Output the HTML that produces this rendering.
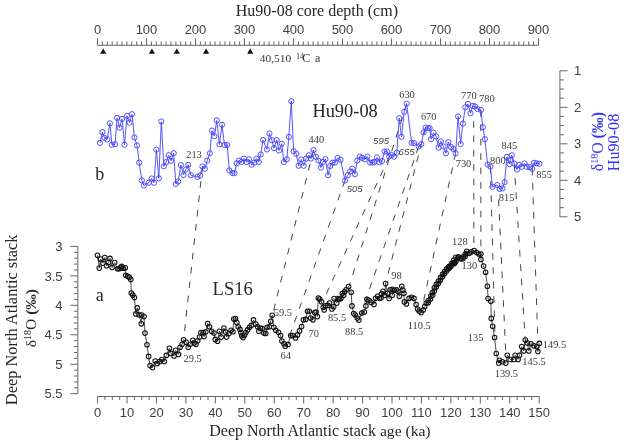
<!DOCTYPE html>
<html><head><meta charset="utf-8"><style>
html,body{margin:0;padding:0;background:#fff;}
svg{display:block;will-change:transform;}
</style></head><body>
<svg width="626" height="443" viewBox="0 0 626 443">
<rect width="626" height="443" fill="#fff"/>
<line x1="97.5" y1="45.3" x2="538.5" y2="45.3" stroke="#666" stroke-width="1"/>
<line x1="97.50" y1="38.3" x2="97.50" y2="45.3" stroke="#666" stroke-width="1"/>
<line x1="102.40" y1="41.5" x2="102.40" y2="45.3" stroke="#666" stroke-width="1"/>
<line x1="107.30" y1="41.5" x2="107.30" y2="45.3" stroke="#666" stroke-width="1"/>
<line x1="112.20" y1="41.5" x2="112.20" y2="45.3" stroke="#666" stroke-width="1"/>
<line x1="117.10" y1="41.5" x2="117.10" y2="45.3" stroke="#666" stroke-width="1"/>
<line x1="122.00" y1="41.5" x2="122.00" y2="45.3" stroke="#666" stroke-width="1"/>
<line x1="126.90" y1="41.5" x2="126.90" y2="45.3" stroke="#666" stroke-width="1"/>
<line x1="131.80" y1="41.5" x2="131.80" y2="45.3" stroke="#666" stroke-width="1"/>
<line x1="136.70" y1="41.5" x2="136.70" y2="45.3" stroke="#666" stroke-width="1"/>
<line x1="141.60" y1="41.5" x2="141.60" y2="45.3" stroke="#666" stroke-width="1"/>
<line x1="146.50" y1="38.3" x2="146.50" y2="45.3" stroke="#666" stroke-width="1"/>
<line x1="151.40" y1="41.5" x2="151.40" y2="45.3" stroke="#666" stroke-width="1"/>
<line x1="156.30" y1="41.5" x2="156.30" y2="45.3" stroke="#666" stroke-width="1"/>
<line x1="161.20" y1="41.5" x2="161.20" y2="45.3" stroke="#666" stroke-width="1"/>
<line x1="166.10" y1="41.5" x2="166.10" y2="45.3" stroke="#666" stroke-width="1"/>
<line x1="171.00" y1="41.5" x2="171.00" y2="45.3" stroke="#666" stroke-width="1"/>
<line x1="175.90" y1="41.5" x2="175.90" y2="45.3" stroke="#666" stroke-width="1"/>
<line x1="180.80" y1="41.5" x2="180.80" y2="45.3" stroke="#666" stroke-width="1"/>
<line x1="185.70" y1="41.5" x2="185.70" y2="45.3" stroke="#666" stroke-width="1"/>
<line x1="190.60" y1="41.5" x2="190.60" y2="45.3" stroke="#666" stroke-width="1"/>
<line x1="195.50" y1="38.3" x2="195.50" y2="45.3" stroke="#666" stroke-width="1"/>
<line x1="200.40" y1="41.5" x2="200.40" y2="45.3" stroke="#666" stroke-width="1"/>
<line x1="205.30" y1="41.5" x2="205.30" y2="45.3" stroke="#666" stroke-width="1"/>
<line x1="210.20" y1="41.5" x2="210.20" y2="45.3" stroke="#666" stroke-width="1"/>
<line x1="215.10" y1="41.5" x2="215.10" y2="45.3" stroke="#666" stroke-width="1"/>
<line x1="220.00" y1="41.5" x2="220.00" y2="45.3" stroke="#666" stroke-width="1"/>
<line x1="224.90" y1="41.5" x2="224.90" y2="45.3" stroke="#666" stroke-width="1"/>
<line x1="229.80" y1="41.5" x2="229.80" y2="45.3" stroke="#666" stroke-width="1"/>
<line x1="234.70" y1="41.5" x2="234.70" y2="45.3" stroke="#666" stroke-width="1"/>
<line x1="239.60" y1="41.5" x2="239.60" y2="45.3" stroke="#666" stroke-width="1"/>
<line x1="244.50" y1="38.3" x2="244.50" y2="45.3" stroke="#666" stroke-width="1"/>
<line x1="249.40" y1="41.5" x2="249.40" y2="45.3" stroke="#666" stroke-width="1"/>
<line x1="254.30" y1="41.5" x2="254.30" y2="45.3" stroke="#666" stroke-width="1"/>
<line x1="259.20" y1="41.5" x2="259.20" y2="45.3" stroke="#666" stroke-width="1"/>
<line x1="264.10" y1="41.5" x2="264.10" y2="45.3" stroke="#666" stroke-width="1"/>
<line x1="269.00" y1="41.5" x2="269.00" y2="45.3" stroke="#666" stroke-width="1"/>
<line x1="273.90" y1="41.5" x2="273.90" y2="45.3" stroke="#666" stroke-width="1"/>
<line x1="278.80" y1="41.5" x2="278.80" y2="45.3" stroke="#666" stroke-width="1"/>
<line x1="283.70" y1="41.5" x2="283.70" y2="45.3" stroke="#666" stroke-width="1"/>
<line x1="288.60" y1="41.5" x2="288.60" y2="45.3" stroke="#666" stroke-width="1"/>
<line x1="293.50" y1="38.3" x2="293.50" y2="45.3" stroke="#666" stroke-width="1"/>
<line x1="298.40" y1="41.5" x2="298.40" y2="45.3" stroke="#666" stroke-width="1"/>
<line x1="303.30" y1="41.5" x2="303.30" y2="45.3" stroke="#666" stroke-width="1"/>
<line x1="308.20" y1="41.5" x2="308.20" y2="45.3" stroke="#666" stroke-width="1"/>
<line x1="313.10" y1="41.5" x2="313.10" y2="45.3" stroke="#666" stroke-width="1"/>
<line x1="318.00" y1="41.5" x2="318.00" y2="45.3" stroke="#666" stroke-width="1"/>
<line x1="322.90" y1="41.5" x2="322.90" y2="45.3" stroke="#666" stroke-width="1"/>
<line x1="327.80" y1="41.5" x2="327.80" y2="45.3" stroke="#666" stroke-width="1"/>
<line x1="332.70" y1="41.5" x2="332.70" y2="45.3" stroke="#666" stroke-width="1"/>
<line x1="337.60" y1="41.5" x2="337.60" y2="45.3" stroke="#666" stroke-width="1"/>
<line x1="342.50" y1="38.3" x2="342.50" y2="45.3" stroke="#666" stroke-width="1"/>
<line x1="347.40" y1="41.5" x2="347.40" y2="45.3" stroke="#666" stroke-width="1"/>
<line x1="352.30" y1="41.5" x2="352.30" y2="45.3" stroke="#666" stroke-width="1"/>
<line x1="357.20" y1="41.5" x2="357.20" y2="45.3" stroke="#666" stroke-width="1"/>
<line x1="362.10" y1="41.5" x2="362.10" y2="45.3" stroke="#666" stroke-width="1"/>
<line x1="367.00" y1="41.5" x2="367.00" y2="45.3" stroke="#666" stroke-width="1"/>
<line x1="371.90" y1="41.5" x2="371.90" y2="45.3" stroke="#666" stroke-width="1"/>
<line x1="376.80" y1="41.5" x2="376.80" y2="45.3" stroke="#666" stroke-width="1"/>
<line x1="381.70" y1="41.5" x2="381.70" y2="45.3" stroke="#666" stroke-width="1"/>
<line x1="386.60" y1="41.5" x2="386.60" y2="45.3" stroke="#666" stroke-width="1"/>
<line x1="391.50" y1="38.3" x2="391.50" y2="45.3" stroke="#666" stroke-width="1"/>
<line x1="396.40" y1="41.5" x2="396.40" y2="45.3" stroke="#666" stroke-width="1"/>
<line x1="401.30" y1="41.5" x2="401.30" y2="45.3" stroke="#666" stroke-width="1"/>
<line x1="406.20" y1="41.5" x2="406.20" y2="45.3" stroke="#666" stroke-width="1"/>
<line x1="411.10" y1="41.5" x2="411.10" y2="45.3" stroke="#666" stroke-width="1"/>
<line x1="416.00" y1="41.5" x2="416.00" y2="45.3" stroke="#666" stroke-width="1"/>
<line x1="420.90" y1="41.5" x2="420.90" y2="45.3" stroke="#666" stroke-width="1"/>
<line x1="425.80" y1="41.5" x2="425.80" y2="45.3" stroke="#666" stroke-width="1"/>
<line x1="430.70" y1="41.5" x2="430.70" y2="45.3" stroke="#666" stroke-width="1"/>
<line x1="435.60" y1="41.5" x2="435.60" y2="45.3" stroke="#666" stroke-width="1"/>
<line x1="440.50" y1="38.3" x2="440.50" y2="45.3" stroke="#666" stroke-width="1"/>
<line x1="445.40" y1="41.5" x2="445.40" y2="45.3" stroke="#666" stroke-width="1"/>
<line x1="450.30" y1="41.5" x2="450.30" y2="45.3" stroke="#666" stroke-width="1"/>
<line x1="455.20" y1="41.5" x2="455.20" y2="45.3" stroke="#666" stroke-width="1"/>
<line x1="460.10" y1="41.5" x2="460.10" y2="45.3" stroke="#666" stroke-width="1"/>
<line x1="465.00" y1="41.5" x2="465.00" y2="45.3" stroke="#666" stroke-width="1"/>
<line x1="469.90" y1="41.5" x2="469.90" y2="45.3" stroke="#666" stroke-width="1"/>
<line x1="474.80" y1="41.5" x2="474.80" y2="45.3" stroke="#666" stroke-width="1"/>
<line x1="479.70" y1="41.5" x2="479.70" y2="45.3" stroke="#666" stroke-width="1"/>
<line x1="484.60" y1="41.5" x2="484.60" y2="45.3" stroke="#666" stroke-width="1"/>
<line x1="489.50" y1="38.3" x2="489.50" y2="45.3" stroke="#666" stroke-width="1"/>
<line x1="494.40" y1="41.5" x2="494.40" y2="45.3" stroke="#666" stroke-width="1"/>
<line x1="499.30" y1="41.5" x2="499.30" y2="45.3" stroke="#666" stroke-width="1"/>
<line x1="504.20" y1="41.5" x2="504.20" y2="45.3" stroke="#666" stroke-width="1"/>
<line x1="509.10" y1="41.5" x2="509.10" y2="45.3" stroke="#666" stroke-width="1"/>
<line x1="514.00" y1="41.5" x2="514.00" y2="45.3" stroke="#666" stroke-width="1"/>
<line x1="518.90" y1="41.5" x2="518.90" y2="45.3" stroke="#666" stroke-width="1"/>
<line x1="523.80" y1="41.5" x2="523.80" y2="45.3" stroke="#666" stroke-width="1"/>
<line x1="528.70" y1="41.5" x2="528.70" y2="45.3" stroke="#666" stroke-width="1"/>
<line x1="533.60" y1="41.5" x2="533.60" y2="45.3" stroke="#666" stroke-width="1"/>
<line x1="538.50" y1="38.3" x2="538.50" y2="45.3" stroke="#666" stroke-width="1"/>
<text x="97.50" y="33.8" style="font-family:'Liberation Sans',sans-serif" font-size="13" fill="#404040" text-anchor="middle">0</text>
<text x="146.50" y="33.8" style="font-family:'Liberation Sans',sans-serif" font-size="13" fill="#404040" text-anchor="middle">100</text>
<text x="195.50" y="33.8" style="font-family:'Liberation Sans',sans-serif" font-size="13" fill="#404040" text-anchor="middle">200</text>
<text x="244.50" y="33.8" style="font-family:'Liberation Sans',sans-serif" font-size="13" fill="#404040" text-anchor="middle">300</text>
<text x="293.50" y="33.8" style="font-family:'Liberation Sans',sans-serif" font-size="13" fill="#404040" text-anchor="middle">400</text>
<text x="342.50" y="33.8" style="font-family:'Liberation Sans',sans-serif" font-size="13" fill="#404040" text-anchor="middle">500</text>
<text x="391.50" y="33.8" style="font-family:'Liberation Sans',sans-serif" font-size="13" fill="#404040" text-anchor="middle">600</text>
<text x="440.50" y="33.8" style="font-family:'Liberation Sans',sans-serif" font-size="13" fill="#404040" text-anchor="middle">700</text>
<text x="489.50" y="33.8" style="font-family:'Liberation Sans',sans-serif" font-size="13" fill="#404040" text-anchor="middle">800</text>
<text x="538.50" y="33.8" style="font-family:'Liberation Sans',sans-serif" font-size="13" fill="#404040" text-anchor="middle">900</text>
<text x="235.8" y="16.4" style="font-family:'Liberation Serif',serif" font-size="16" fill="#262626">Hu90-08 core depth (cm)</text>
<path d="M100.1 53.8 L103.2 48.4 L106.3 53.8Z" fill="#111"/>
<path d="M148.8 53.8 L151.9 48.4 L155.0 53.8Z" fill="#111"/>
<path d="M173.7 53.8 L176.8 48.4 L179.9 53.8Z" fill="#111"/>
<path d="M203.0 53.8 L206.1 48.4 L209.2 53.8Z" fill="#111"/>
<path d="M247.1 53.8 L250.2 48.4 L253.3 53.8Z" fill="#111"/>
<text x="259.8" y="62.3" style="font-family:'Liberation Serif',serif" font-size="11.4" fill="#333">40,510<tspan x="296.0" font-size="8.2" dy="-3.8">14</tspan><tspan x="302.2" font-size="12.2" dy="3.8">C</tspan><tspan x="315" font-size="12">a</tspan></text>
<line x1="559.9" y1="70.8" x2="559.9" y2="216.8" stroke="#666" stroke-width="1"/>
<line x1="559.9" y1="70.80" x2="567.5" y2="70.80" stroke="#666" stroke-width="1"/>
<line x1="559.9" y1="79.92" x2="563.9" y2="79.92" stroke="#666" stroke-width="1"/>
<line x1="559.9" y1="89.05" x2="563.9" y2="89.05" stroke="#666" stroke-width="1"/>
<line x1="559.9" y1="98.17" x2="563.9" y2="98.17" stroke="#666" stroke-width="1"/>
<line x1="559.9" y1="107.30" x2="567.5" y2="107.30" stroke="#666" stroke-width="1"/>
<line x1="559.9" y1="116.42" x2="563.9" y2="116.42" stroke="#666" stroke-width="1"/>
<line x1="559.9" y1="125.55" x2="563.9" y2="125.55" stroke="#666" stroke-width="1"/>
<line x1="559.9" y1="134.68" x2="563.9" y2="134.68" stroke="#666" stroke-width="1"/>
<line x1="559.9" y1="143.80" x2="567.5" y2="143.80" stroke="#666" stroke-width="1"/>
<line x1="559.9" y1="152.93" x2="563.9" y2="152.93" stroke="#666" stroke-width="1"/>
<line x1="559.9" y1="162.05" x2="563.9" y2="162.05" stroke="#666" stroke-width="1"/>
<line x1="559.9" y1="171.18" x2="563.9" y2="171.18" stroke="#666" stroke-width="1"/>
<line x1="559.9" y1="180.30" x2="567.5" y2="180.30" stroke="#666" stroke-width="1"/>
<line x1="559.9" y1="189.43" x2="563.9" y2="189.43" stroke="#666" stroke-width="1"/>
<line x1="559.9" y1="198.55" x2="563.9" y2="198.55" stroke="#666" stroke-width="1"/>
<line x1="559.9" y1="207.68" x2="563.9" y2="207.68" stroke="#666" stroke-width="1"/>
<line x1="559.9" y1="216.80" x2="567.5" y2="216.80" stroke="#666" stroke-width="1"/>
<text x="574.0" y="75.45" style="font-family:'Liberation Sans',sans-serif" font-size="13" fill="#404040">1</text>
<text x="574.0" y="111.95" style="font-family:'Liberation Sans',sans-serif" font-size="13" fill="#404040">2</text>
<text x="574.0" y="148.45" style="font-family:'Liberation Sans',sans-serif" font-size="13" fill="#404040">3</text>
<text x="574.0" y="184.95" style="font-family:'Liberation Sans',sans-serif" font-size="13" fill="#404040">4</text>
<text x="574.0" y="221.45" style="font-family:'Liberation Sans',sans-serif" font-size="13" fill="#404040">5</text>
<text transform="translate(602.7,171.2) rotate(-90)" style="font-family:'Liberation Serif',serif" font-size="15.8" fill="#3333ff">δ<tspan font-size="10" dy="-5">18</tspan><tspan dy="5">O </tspan><tspan font-weight="bold">(‰)</tspan></text>
<text transform="translate(619.3,171.3) rotate(-90)" style="font-family:'Liberation Serif',serif" font-size="16.2" fill="#3333ff">Hu90-08</text>
<line x1="77.8" y1="246.4" x2="77.8" y2="393.70000000000005" stroke="#666" stroke-width="1"/>
<line x1="70.3" y1="246.40" x2="77.8" y2="246.40" stroke="#666" stroke-width="1"/>
<line x1="74" y1="252.29" x2="77.8" y2="252.29" stroke="#666" stroke-width="1"/>
<line x1="74" y1="258.18" x2="77.8" y2="258.18" stroke="#666" stroke-width="1"/>
<line x1="74" y1="264.08" x2="77.8" y2="264.08" stroke="#666" stroke-width="1"/>
<line x1="74" y1="269.97" x2="77.8" y2="269.97" stroke="#666" stroke-width="1"/>
<line x1="70.3" y1="275.86" x2="77.8" y2="275.86" stroke="#666" stroke-width="1"/>
<line x1="74" y1="281.75" x2="77.8" y2="281.75" stroke="#666" stroke-width="1"/>
<line x1="74" y1="287.64" x2="77.8" y2="287.64" stroke="#666" stroke-width="1"/>
<line x1="74" y1="293.54" x2="77.8" y2="293.54" stroke="#666" stroke-width="1"/>
<line x1="74" y1="299.43" x2="77.8" y2="299.43" stroke="#666" stroke-width="1"/>
<line x1="70.3" y1="305.32" x2="77.8" y2="305.32" stroke="#666" stroke-width="1"/>
<line x1="74" y1="311.21" x2="77.8" y2="311.21" stroke="#666" stroke-width="1"/>
<line x1="74" y1="317.10" x2="77.8" y2="317.10" stroke="#666" stroke-width="1"/>
<line x1="74" y1="323.00" x2="77.8" y2="323.00" stroke="#666" stroke-width="1"/>
<line x1="74" y1="328.89" x2="77.8" y2="328.89" stroke="#666" stroke-width="1"/>
<line x1="70.3" y1="334.78" x2="77.8" y2="334.78" stroke="#666" stroke-width="1"/>
<line x1="74" y1="340.67" x2="77.8" y2="340.67" stroke="#666" stroke-width="1"/>
<line x1="74" y1="346.56" x2="77.8" y2="346.56" stroke="#666" stroke-width="1"/>
<line x1="74" y1="352.46" x2="77.8" y2="352.46" stroke="#666" stroke-width="1"/>
<line x1="74" y1="358.35" x2="77.8" y2="358.35" stroke="#666" stroke-width="1"/>
<line x1="70.3" y1="364.24" x2="77.8" y2="364.24" stroke="#666" stroke-width="1"/>
<line x1="74" y1="370.13" x2="77.8" y2="370.13" stroke="#666" stroke-width="1"/>
<line x1="74" y1="376.02" x2="77.8" y2="376.02" stroke="#666" stroke-width="1"/>
<line x1="74" y1="381.92" x2="77.8" y2="381.92" stroke="#666" stroke-width="1"/>
<line x1="74" y1="387.81" x2="77.8" y2="387.81" stroke="#666" stroke-width="1"/>
<line x1="70.3" y1="393.70" x2="77.8" y2="393.70" stroke="#666" stroke-width="1"/>
<text x="62.6" y="251.05" style="font-family:'Liberation Sans',sans-serif" font-size="13" fill="#404040" text-anchor="end">3</text>
<text x="62.6" y="280.51" style="font-family:'Liberation Sans',sans-serif" font-size="13" fill="#404040" text-anchor="end">3.5</text>
<text x="62.6" y="309.97" style="font-family:'Liberation Sans',sans-serif" font-size="13" fill="#404040" text-anchor="end">4</text>
<text x="62.6" y="339.43" style="font-family:'Liberation Sans',sans-serif" font-size="13" fill="#404040" text-anchor="end">4.5</text>
<text x="62.6" y="368.89" style="font-family:'Liberation Sans',sans-serif" font-size="13" fill="#404040" text-anchor="end">5</text>
<text x="62.6" y="398.35" style="font-family:'Liberation Sans',sans-serif" font-size="13" fill="#404040" text-anchor="end">5.5</text>
<line x1="97.6" y1="396.5" x2="539.20" y2="396.5" stroke="#666" stroke-width="1"/>
<line x1="97.60" y1="396.5" x2="97.60" y2="403.5" stroke="#666" stroke-width="1"/>
<line x1="104.96" y1="396.5" x2="104.96" y2="400" stroke="#666" stroke-width="1"/>
<line x1="112.32" y1="396.5" x2="112.32" y2="400" stroke="#666" stroke-width="1"/>
<line x1="119.68" y1="396.5" x2="119.68" y2="400" stroke="#666" stroke-width="1"/>
<line x1="127.04" y1="396.5" x2="127.04" y2="403.5" stroke="#666" stroke-width="1"/>
<line x1="134.40" y1="396.5" x2="134.40" y2="400" stroke="#666" stroke-width="1"/>
<line x1="141.76" y1="396.5" x2="141.76" y2="400" stroke="#666" stroke-width="1"/>
<line x1="149.12" y1="396.5" x2="149.12" y2="400" stroke="#666" stroke-width="1"/>
<line x1="156.48" y1="396.5" x2="156.48" y2="403.5" stroke="#666" stroke-width="1"/>
<line x1="163.84" y1="396.5" x2="163.84" y2="400" stroke="#666" stroke-width="1"/>
<line x1="171.20" y1="396.5" x2="171.20" y2="400" stroke="#666" stroke-width="1"/>
<line x1="178.56" y1="396.5" x2="178.56" y2="400" stroke="#666" stroke-width="1"/>
<line x1="185.92" y1="396.5" x2="185.92" y2="403.5" stroke="#666" stroke-width="1"/>
<line x1="193.28" y1="396.5" x2="193.28" y2="400" stroke="#666" stroke-width="1"/>
<line x1="200.64" y1="396.5" x2="200.64" y2="400" stroke="#666" stroke-width="1"/>
<line x1="208.00" y1="396.5" x2="208.00" y2="400" stroke="#666" stroke-width="1"/>
<line x1="215.36" y1="396.5" x2="215.36" y2="403.5" stroke="#666" stroke-width="1"/>
<line x1="222.72" y1="396.5" x2="222.72" y2="400" stroke="#666" stroke-width="1"/>
<line x1="230.08" y1="396.5" x2="230.08" y2="400" stroke="#666" stroke-width="1"/>
<line x1="237.44" y1="396.5" x2="237.44" y2="400" stroke="#666" stroke-width="1"/>
<line x1="244.80" y1="396.5" x2="244.80" y2="403.5" stroke="#666" stroke-width="1"/>
<line x1="252.16" y1="396.5" x2="252.16" y2="400" stroke="#666" stroke-width="1"/>
<line x1="259.52" y1="396.5" x2="259.52" y2="400" stroke="#666" stroke-width="1"/>
<line x1="266.88" y1="396.5" x2="266.88" y2="400" stroke="#666" stroke-width="1"/>
<line x1="274.24" y1="396.5" x2="274.24" y2="403.5" stroke="#666" stroke-width="1"/>
<line x1="281.60" y1="396.5" x2="281.60" y2="400" stroke="#666" stroke-width="1"/>
<line x1="288.96" y1="396.5" x2="288.96" y2="400" stroke="#666" stroke-width="1"/>
<line x1="296.32" y1="396.5" x2="296.32" y2="400" stroke="#666" stroke-width="1"/>
<line x1="303.68" y1="396.5" x2="303.68" y2="403.5" stroke="#666" stroke-width="1"/>
<line x1="311.04" y1="396.5" x2="311.04" y2="400" stroke="#666" stroke-width="1"/>
<line x1="318.40" y1="396.5" x2="318.40" y2="400" stroke="#666" stroke-width="1"/>
<line x1="325.76" y1="396.5" x2="325.76" y2="400" stroke="#666" stroke-width="1"/>
<line x1="333.12" y1="396.5" x2="333.12" y2="403.5" stroke="#666" stroke-width="1"/>
<line x1="340.48" y1="396.5" x2="340.48" y2="400" stroke="#666" stroke-width="1"/>
<line x1="347.84" y1="396.5" x2="347.84" y2="400" stroke="#666" stroke-width="1"/>
<line x1="355.20" y1="396.5" x2="355.20" y2="400" stroke="#666" stroke-width="1"/>
<line x1="362.56" y1="396.5" x2="362.56" y2="403.5" stroke="#666" stroke-width="1"/>
<line x1="369.92" y1="396.5" x2="369.92" y2="400" stroke="#666" stroke-width="1"/>
<line x1="377.28" y1="396.5" x2="377.28" y2="400" stroke="#666" stroke-width="1"/>
<line x1="384.64" y1="396.5" x2="384.64" y2="400" stroke="#666" stroke-width="1"/>
<line x1="392.00" y1="396.5" x2="392.00" y2="403.5" stroke="#666" stroke-width="1"/>
<line x1="399.36" y1="396.5" x2="399.36" y2="400" stroke="#666" stroke-width="1"/>
<line x1="406.72" y1="396.5" x2="406.72" y2="400" stroke="#666" stroke-width="1"/>
<line x1="414.08" y1="396.5" x2="414.08" y2="400" stroke="#666" stroke-width="1"/>
<line x1="421.44" y1="396.5" x2="421.44" y2="403.5" stroke="#666" stroke-width="1"/>
<line x1="428.80" y1="396.5" x2="428.80" y2="400" stroke="#666" stroke-width="1"/>
<line x1="436.16" y1="396.5" x2="436.16" y2="400" stroke="#666" stroke-width="1"/>
<line x1="443.52" y1="396.5" x2="443.52" y2="400" stroke="#666" stroke-width="1"/>
<line x1="450.88" y1="396.5" x2="450.88" y2="403.5" stroke="#666" stroke-width="1"/>
<line x1="458.24" y1="396.5" x2="458.24" y2="400" stroke="#666" stroke-width="1"/>
<line x1="465.60" y1="396.5" x2="465.60" y2="400" stroke="#666" stroke-width="1"/>
<line x1="472.96" y1="396.5" x2="472.96" y2="400" stroke="#666" stroke-width="1"/>
<line x1="480.32" y1="396.5" x2="480.32" y2="403.5" stroke="#666" stroke-width="1"/>
<line x1="487.68" y1="396.5" x2="487.68" y2="400" stroke="#666" stroke-width="1"/>
<line x1="495.04" y1="396.5" x2="495.04" y2="400" stroke="#666" stroke-width="1"/>
<line x1="502.40" y1="396.5" x2="502.40" y2="400" stroke="#666" stroke-width="1"/>
<line x1="509.76" y1="396.5" x2="509.76" y2="403.5" stroke="#666" stroke-width="1"/>
<line x1="517.12" y1="396.5" x2="517.12" y2="400" stroke="#666" stroke-width="1"/>
<line x1="524.48" y1="396.5" x2="524.48" y2="400" stroke="#666" stroke-width="1"/>
<line x1="531.84" y1="396.5" x2="531.84" y2="400" stroke="#666" stroke-width="1"/>
<line x1="539.20" y1="396.5" x2="539.20" y2="403.5" stroke="#666" stroke-width="1"/>
<text x="97.60" y="417.2" style="font-family:'Liberation Sans',sans-serif" font-size="13" fill="#404040" text-anchor="middle">0</text>
<text x="127.04" y="417.2" style="font-family:'Liberation Sans',sans-serif" font-size="13" fill="#404040" text-anchor="middle">10</text>
<text x="156.48" y="417.2" style="font-family:'Liberation Sans',sans-serif" font-size="13" fill="#404040" text-anchor="middle">20</text>
<text x="185.92" y="417.2" style="font-family:'Liberation Sans',sans-serif" font-size="13" fill="#404040" text-anchor="middle">30</text>
<text x="215.36" y="417.2" style="font-family:'Liberation Sans',sans-serif" font-size="13" fill="#404040" text-anchor="middle">40</text>
<text x="244.80" y="417.2" style="font-family:'Liberation Sans',sans-serif" font-size="13" fill="#404040" text-anchor="middle">50</text>
<text x="274.24" y="417.2" style="font-family:'Liberation Sans',sans-serif" font-size="13" fill="#404040" text-anchor="middle">60</text>
<text x="303.68" y="417.2" style="font-family:'Liberation Sans',sans-serif" font-size="13" fill="#404040" text-anchor="middle">70</text>
<text x="333.12" y="417.2" style="font-family:'Liberation Sans',sans-serif" font-size="13" fill="#404040" text-anchor="middle">80</text>
<text x="362.56" y="417.2" style="font-family:'Liberation Sans',sans-serif" font-size="13" fill="#404040" text-anchor="middle">90</text>
<text x="392.00" y="417.2" style="font-family:'Liberation Sans',sans-serif" font-size="13" fill="#404040" text-anchor="middle">100</text>
<text x="421.44" y="417.2" style="font-family:'Liberation Sans',sans-serif" font-size="13" fill="#404040" text-anchor="middle">110</text>
<text x="450.88" y="417.2" style="font-family:'Liberation Sans',sans-serif" font-size="13" fill="#404040" text-anchor="middle">120</text>
<text x="480.32" y="417.2" style="font-family:'Liberation Sans',sans-serif" font-size="13" fill="#404040" text-anchor="middle">130</text>
<text x="509.76" y="417.2" style="font-family:'Liberation Sans',sans-serif" font-size="13" fill="#404040" text-anchor="middle">140</text>
<text x="539.20" y="417.2" style="font-family:'Liberation Sans',sans-serif" font-size="13" fill="#404040" text-anchor="middle">150</text>
<text x="209.3" y="436.4" style="font-family:'Liberation Serif',serif" font-size="16" fill="#262626">Deep North Atlantic stack <tspan font-size="15.6">age (ka)</tspan></text>
<text transform="translate(17.2,405.2) rotate(-90)" style="font-family:'Liberation Serif',serif" font-size="16.4" fill="#262626">Deep North Atlantic stack</text>
<text transform="translate(36.2,347.2) rotate(-90)" style="font-family:'Liberation Serif',serif" font-size="15.5" fill="#262626">δ<tspan font-size="10" dy="-5">18</tspan><tspan dy="5">O </tspan><tspan font-weight="bold">(‰)</tspan></text>
<line x1="202.5" y1="166.8" x2="184.0" y2="336.0" stroke="#444" stroke-width="1" stroke-dasharray="6.7 7.7"/>
<line x1="313.5" y1="150.1" x2="273.0" y2="313.0" stroke="#444" stroke-width="1" stroke-dasharray="6.7 7.7"/>
<line x1="345.0" y1="180.5" x2="286.0" y2="346.0" stroke="#444" stroke-width="1" stroke-dasharray="6.7 7.7"/>
<line x1="389.2" y1="156.8" x2="323.0" y2="301.0" stroke="#444" stroke-width="1" stroke-dasharray="6.7 7.7"/>
<line x1="406.7" y1="103.7" x2="349.1" y2="286.2" stroke="#444" stroke-width="1" stroke-dasharray="6.7 7.7"/>
<line x1="418.7" y1="146.5" x2="358.8" y2="320.1" stroke="#444" stroke-width="1" stroke-dasharray="6.7 7.7"/>
<line x1="425.6" y1="127.6" x2="385.6" y2="283.6" stroke="#444" stroke-width="1" stroke-dasharray="6.7 7.7"/>
<line x1="455.6" y1="153.3" x2="421.1" y2="312.6" stroke="#444" stroke-width="1" stroke-dasharray="6.7 7.7"/>
<line x1="473.7" y1="121.0" x2="473.9" y2="250.6" stroke="#444" stroke-width="1" stroke-dasharray="6.7 7.7"/>
<line x1="480.8" y1="110.0" x2="480.9" y2="254.0" stroke="#444" stroke-width="1" stroke-dasharray="6.7 7.7"/>
<line x1="490.4" y1="166.6" x2="495.0" y2="337.5" stroke="#444" stroke-width="1" stroke-dasharray="6.7 7.7"/>
<line x1="498.6" y1="199.6" x2="506.0" y2="358.0" stroke="#444" stroke-width="1" stroke-dasharray="6.7 7.7"/>
<line x1="514.2" y1="163.7" x2="525.3" y2="340.1" stroke="#444" stroke-width="1" stroke-dasharray="6.7 7.7"/>
<line x1="532.2" y1="168.8" x2="537.9" y2="343.4" stroke="#444" stroke-width="1" stroke-dasharray="6.7 7.7"/>
<polyline points="100.0,142.9 102.4,132.1 104.5,137.9 107.2,139.5 109.9,123.3 111.9,144.7 115.0,144.3 117.1,117.9 119.6,127.7 122.1,118.9 124.5,144.7 127.0,115.8 129.5,122.6 132.0,114.2 134.4,137.5 137.0,145.4 139.2,162.6 141.8,180.3 143.9,185.5 148.9,182.7 151.7,178.5 154.0,182.8 156.4,149.7 158.8,178.3 161.3,121.5 163.8,166.3 166.2,162.0 168.6,155.2 171.0,160.8 173.7,153.2 175.8,184.0 178.2,181.5 180.9,165.1 183.5,175.0 185.8,169.5 188.2,164.8 190.9,175.3 197.4,176.9 200.2,175.5 202.4,166.5 204.9,168.7 207.3,160.6 209.9,153.2 211.9,130.6 214.4,136.2 216.8,120.4 219.4,144.4 222.0,124.7 224.5,145.0 227.2,145.0 229.3,170.4 232.4,173.1 234.4,173.1 236.7,163.3 239.0,160.6 241.4,162.0 243.9,158.6 246.6,162.0 248.9,159.3 251.6,164.7 254.3,162.6 256.4,158.6 258.8,162.0 260.7,154.5 263.1,140.0 266.9,149.5 269.4,133.5 271.9,140.3 274.0,148.2 276.7,140.0 279.0,150.5 281.8,143.7 283.8,162.0 286.8,159.3 288.8,136.9 291.3,101.2 293.6,151.1 296.3,153.8 298.6,165.8 301.3,159.5 303.7,165.8 306.2,158.6 308.9,155.2 310.9,158.6 313.5,150.1 315.9,156.8 318.4,160.6 320.9,167.5 322.9,162.0 325.5,159.1 328.1,175.2 330.2,166.0 332.5,162.6 334.9,162.6 337.6,157.9 340.6,159.9 345.0,180.5 347.8,175.2 350.1,171.4 352.5,168.7 354.9,174.2 357.2,160.6 359.7,156.6 362.0,157.9 364.7,159.3 367.4,156.6 370.1,162.6 372.5,162.5 374.2,162.0 377.0,157.4 379.5,162.3 382.0,161.0 384.5,151.5 387.0,151.5 389.3,156.4 391.5,155.0 394.1,156.7 396.8,152.7 399.2,118.2 401.5,136.8 404.2,111.8 406.7,103.7 411.6,142.8 414.0,143.0 418.7,146.5 421.3,144.1 423.5,132.4 425.6,127.6 428.1,128.1 429.7,128.1 431.0,139.2 433.5,132.8 436.2,136.4 438.5,147.6 440.8,141.3 443.5,146.5 445.9,153.3 448.4,142.2 451.1,147.1 453.4,149.0 455.6,153.3 458.1,116.4 460.6,144.0 462.9,123.6 465.3,107.3 468.0,104.0 470.5,113.2 472.8,106.0 475.1,106.4 477.5,109.1 480.9,110.0 482.9,127.2 484.9,139.2 487.6,164.5 490.4,166.6 492.4,186.8 497.3,185.0 499.7,188.9 502.5,188.4 504.6,182.1 506.9,156.9 509.5,164.2 510.3,160.0 511.8,155.3 514.4,163.7 517.1,169.5 519.1,165.0 521.8,166.8 524.5,163.4 526.8,166.8 529.9,167.2 532.2,168.8 534.0,162.8 536.7,163.4 539.4,163.7" fill="none" stroke="#4040ff" stroke-width="0.9"/>
<circle cx="100.0" cy="142.9" r="2.6" fill="none" stroke="#4040ff" stroke-width="0.9"/>
<circle cx="102.4" cy="132.1" r="2.6" fill="none" stroke="#4040ff" stroke-width="0.9"/>
<circle cx="104.5" cy="137.9" r="2.6" fill="none" stroke="#4040ff" stroke-width="0.9"/>
<circle cx="107.2" cy="139.5" r="2.6" fill="none" stroke="#4040ff" stroke-width="0.9"/>
<circle cx="109.9" cy="123.3" r="2.6" fill="none" stroke="#4040ff" stroke-width="0.9"/>
<circle cx="111.9" cy="144.7" r="2.6" fill="none" stroke="#4040ff" stroke-width="0.9"/>
<circle cx="115.0" cy="144.3" r="2.6" fill="none" stroke="#4040ff" stroke-width="0.9"/>
<circle cx="117.1" cy="117.9" r="2.6" fill="none" stroke="#4040ff" stroke-width="0.9"/>
<circle cx="119.6" cy="127.7" r="2.6" fill="none" stroke="#4040ff" stroke-width="0.9"/>
<circle cx="122.1" cy="118.9" r="2.6" fill="none" stroke="#4040ff" stroke-width="0.9"/>
<circle cx="124.5" cy="144.7" r="2.6" fill="none" stroke="#4040ff" stroke-width="0.9"/>
<circle cx="127.0" cy="115.8" r="2.6" fill="none" stroke="#4040ff" stroke-width="0.9"/>
<circle cx="129.5" cy="122.6" r="2.6" fill="none" stroke="#4040ff" stroke-width="0.9"/>
<circle cx="132.0" cy="114.2" r="2.6" fill="none" stroke="#4040ff" stroke-width="0.9"/>
<circle cx="134.4" cy="137.5" r="2.6" fill="none" stroke="#4040ff" stroke-width="0.9"/>
<circle cx="137.0" cy="145.4" r="2.6" fill="none" stroke="#4040ff" stroke-width="0.9"/>
<circle cx="139.2" cy="162.6" r="2.6" fill="none" stroke="#4040ff" stroke-width="0.9"/>
<circle cx="141.8" cy="180.3" r="2.6" fill="none" stroke="#4040ff" stroke-width="0.9"/>
<circle cx="143.9" cy="185.5" r="2.6" fill="none" stroke="#4040ff" stroke-width="0.9"/>
<circle cx="148.9" cy="182.7" r="2.6" fill="none" stroke="#4040ff" stroke-width="0.9"/>
<circle cx="151.7" cy="178.5" r="2.6" fill="none" stroke="#4040ff" stroke-width="0.9"/>
<circle cx="154.0" cy="182.8" r="2.6" fill="none" stroke="#4040ff" stroke-width="0.9"/>
<circle cx="156.4" cy="149.7" r="2.6" fill="none" stroke="#4040ff" stroke-width="0.9"/>
<circle cx="158.8" cy="178.3" r="2.6" fill="none" stroke="#4040ff" stroke-width="0.9"/>
<circle cx="161.3" cy="121.5" r="2.6" fill="none" stroke="#4040ff" stroke-width="0.9"/>
<circle cx="163.8" cy="166.3" r="2.6" fill="none" stroke="#4040ff" stroke-width="0.9"/>
<circle cx="166.2" cy="162.0" r="2.6" fill="none" stroke="#4040ff" stroke-width="0.9"/>
<circle cx="168.6" cy="155.2" r="2.6" fill="none" stroke="#4040ff" stroke-width="0.9"/>
<circle cx="171.0" cy="160.8" r="2.6" fill="none" stroke="#4040ff" stroke-width="0.9"/>
<circle cx="173.7" cy="153.2" r="2.6" fill="none" stroke="#4040ff" stroke-width="0.9"/>
<circle cx="175.8" cy="184.0" r="2.6" fill="none" stroke="#4040ff" stroke-width="0.9"/>
<circle cx="178.2" cy="181.5" r="2.6" fill="none" stroke="#4040ff" stroke-width="0.9"/>
<circle cx="180.9" cy="165.1" r="2.6" fill="none" stroke="#4040ff" stroke-width="0.9"/>
<circle cx="183.5" cy="175.0" r="2.6" fill="none" stroke="#4040ff" stroke-width="0.9"/>
<circle cx="185.8" cy="169.5" r="2.6" fill="none" stroke="#4040ff" stroke-width="0.9"/>
<circle cx="188.2" cy="164.8" r="2.6" fill="none" stroke="#4040ff" stroke-width="0.9"/>
<circle cx="190.9" cy="175.3" r="2.6" fill="none" stroke="#4040ff" stroke-width="0.9"/>
<circle cx="197.4" cy="176.9" r="2.6" fill="none" stroke="#4040ff" stroke-width="0.9"/>
<circle cx="200.2" cy="175.5" r="2.6" fill="none" stroke="#4040ff" stroke-width="0.9"/>
<circle cx="202.4" cy="166.5" r="2.6" fill="none" stroke="#4040ff" stroke-width="0.9"/>
<circle cx="204.9" cy="168.7" r="2.6" fill="none" stroke="#4040ff" stroke-width="0.9"/>
<circle cx="207.3" cy="160.6" r="2.6" fill="none" stroke="#4040ff" stroke-width="0.9"/>
<circle cx="209.9" cy="153.2" r="2.6" fill="none" stroke="#4040ff" stroke-width="0.9"/>
<circle cx="211.9" cy="130.6" r="2.6" fill="none" stroke="#4040ff" stroke-width="0.9"/>
<circle cx="214.4" cy="136.2" r="2.6" fill="none" stroke="#4040ff" stroke-width="0.9"/>
<circle cx="216.8" cy="120.4" r="2.6" fill="none" stroke="#4040ff" stroke-width="0.9"/>
<circle cx="219.4" cy="144.4" r="2.6" fill="none" stroke="#4040ff" stroke-width="0.9"/>
<circle cx="222.0" cy="124.7" r="2.6" fill="none" stroke="#4040ff" stroke-width="0.9"/>
<circle cx="224.5" cy="145.0" r="2.6" fill="none" stroke="#4040ff" stroke-width="0.9"/>
<circle cx="227.2" cy="145.0" r="2.6" fill="none" stroke="#4040ff" stroke-width="0.9"/>
<circle cx="229.3" cy="170.4" r="2.6" fill="none" stroke="#4040ff" stroke-width="0.9"/>
<circle cx="232.4" cy="173.1" r="2.6" fill="none" stroke="#4040ff" stroke-width="0.9"/>
<circle cx="234.4" cy="173.1" r="2.6" fill="none" stroke="#4040ff" stroke-width="0.9"/>
<circle cx="236.7" cy="163.3" r="2.6" fill="none" stroke="#4040ff" stroke-width="0.9"/>
<circle cx="239.0" cy="160.6" r="2.6" fill="none" stroke="#4040ff" stroke-width="0.9"/>
<circle cx="241.4" cy="162.0" r="2.6" fill="none" stroke="#4040ff" stroke-width="0.9"/>
<circle cx="243.9" cy="158.6" r="2.6" fill="none" stroke="#4040ff" stroke-width="0.9"/>
<circle cx="246.6" cy="162.0" r="2.6" fill="none" stroke="#4040ff" stroke-width="0.9"/>
<circle cx="248.9" cy="159.3" r="2.6" fill="none" stroke="#4040ff" stroke-width="0.9"/>
<circle cx="251.6" cy="164.7" r="2.6" fill="none" stroke="#4040ff" stroke-width="0.9"/>
<circle cx="254.3" cy="162.6" r="2.6" fill="none" stroke="#4040ff" stroke-width="0.9"/>
<circle cx="256.4" cy="158.6" r="2.6" fill="none" stroke="#4040ff" stroke-width="0.9"/>
<circle cx="258.8" cy="162.0" r="2.6" fill="none" stroke="#4040ff" stroke-width="0.9"/>
<circle cx="260.7" cy="154.5" r="2.6" fill="none" stroke="#4040ff" stroke-width="0.9"/>
<circle cx="263.1" cy="140.0" r="2.6" fill="none" stroke="#4040ff" stroke-width="0.9"/>
<circle cx="266.9" cy="149.5" r="2.6" fill="none" stroke="#4040ff" stroke-width="0.9"/>
<circle cx="269.4" cy="133.5" r="2.6" fill="none" stroke="#4040ff" stroke-width="0.9"/>
<circle cx="271.9" cy="140.3" r="2.6" fill="none" stroke="#4040ff" stroke-width="0.9"/>
<circle cx="274.0" cy="148.2" r="2.6" fill="none" stroke="#4040ff" stroke-width="0.9"/>
<circle cx="276.7" cy="140.0" r="2.6" fill="none" stroke="#4040ff" stroke-width="0.9"/>
<circle cx="279.0" cy="150.5" r="2.6" fill="none" stroke="#4040ff" stroke-width="0.9"/>
<circle cx="281.8" cy="143.7" r="2.6" fill="none" stroke="#4040ff" stroke-width="0.9"/>
<circle cx="283.8" cy="162.0" r="2.6" fill="none" stroke="#4040ff" stroke-width="0.9"/>
<circle cx="286.8" cy="159.3" r="2.6" fill="none" stroke="#4040ff" stroke-width="0.9"/>
<circle cx="288.8" cy="136.9" r="2.6" fill="none" stroke="#4040ff" stroke-width="0.9"/>
<circle cx="291.3" cy="101.2" r="2.6" fill="none" stroke="#4040ff" stroke-width="0.9"/>
<circle cx="293.6" cy="151.1" r="2.6" fill="none" stroke="#4040ff" stroke-width="0.9"/>
<circle cx="296.3" cy="153.8" r="2.6" fill="none" stroke="#4040ff" stroke-width="0.9"/>
<circle cx="298.6" cy="165.8" r="2.6" fill="none" stroke="#4040ff" stroke-width="0.9"/>
<circle cx="301.3" cy="159.5" r="2.6" fill="none" stroke="#4040ff" stroke-width="0.9"/>
<circle cx="303.7" cy="165.8" r="2.6" fill="none" stroke="#4040ff" stroke-width="0.9"/>
<circle cx="306.2" cy="158.6" r="2.6" fill="none" stroke="#4040ff" stroke-width="0.9"/>
<circle cx="308.9" cy="155.2" r="2.6" fill="none" stroke="#4040ff" stroke-width="0.9"/>
<circle cx="310.9" cy="158.6" r="2.6" fill="none" stroke="#4040ff" stroke-width="0.9"/>
<circle cx="313.5" cy="150.1" r="2.6" fill="none" stroke="#4040ff" stroke-width="0.9"/>
<circle cx="315.9" cy="156.8" r="2.6" fill="none" stroke="#4040ff" stroke-width="0.9"/>
<circle cx="318.4" cy="160.6" r="2.6" fill="none" stroke="#4040ff" stroke-width="0.9"/>
<circle cx="320.9" cy="167.5" r="2.6" fill="none" stroke="#4040ff" stroke-width="0.9"/>
<circle cx="322.9" cy="162.0" r="2.6" fill="none" stroke="#4040ff" stroke-width="0.9"/>
<circle cx="325.5" cy="159.1" r="2.6" fill="none" stroke="#4040ff" stroke-width="0.9"/>
<circle cx="328.1" cy="175.2" r="2.6" fill="none" stroke="#4040ff" stroke-width="0.9"/>
<circle cx="330.2" cy="166.0" r="2.6" fill="none" stroke="#4040ff" stroke-width="0.9"/>
<circle cx="332.5" cy="162.6" r="2.6" fill="none" stroke="#4040ff" stroke-width="0.9"/>
<circle cx="334.9" cy="162.6" r="2.6" fill="none" stroke="#4040ff" stroke-width="0.9"/>
<circle cx="337.6" cy="157.9" r="2.6" fill="none" stroke="#4040ff" stroke-width="0.9"/>
<circle cx="340.6" cy="159.9" r="2.6" fill="none" stroke="#4040ff" stroke-width="0.9"/>
<circle cx="345.0" cy="180.5" r="2.6" fill="none" stroke="#4040ff" stroke-width="0.9"/>
<circle cx="347.8" cy="175.2" r="2.6" fill="none" stroke="#4040ff" stroke-width="0.9"/>
<circle cx="350.1" cy="171.4" r="2.6" fill="none" stroke="#4040ff" stroke-width="0.9"/>
<circle cx="352.5" cy="168.7" r="2.6" fill="none" stroke="#4040ff" stroke-width="0.9"/>
<circle cx="354.9" cy="174.2" r="2.6" fill="none" stroke="#4040ff" stroke-width="0.9"/>
<circle cx="357.2" cy="160.6" r="2.6" fill="none" stroke="#4040ff" stroke-width="0.9"/>
<circle cx="359.7" cy="156.6" r="2.6" fill="none" stroke="#4040ff" stroke-width="0.9"/>
<circle cx="362.0" cy="157.9" r="2.6" fill="none" stroke="#4040ff" stroke-width="0.9"/>
<circle cx="364.7" cy="159.3" r="2.6" fill="none" stroke="#4040ff" stroke-width="0.9"/>
<circle cx="367.4" cy="156.6" r="2.6" fill="none" stroke="#4040ff" stroke-width="0.9"/>
<circle cx="370.1" cy="162.6" r="2.6" fill="none" stroke="#4040ff" stroke-width="0.9"/>
<circle cx="372.5" cy="162.5" r="2.6" fill="none" stroke="#4040ff" stroke-width="0.9"/>
<circle cx="374.2" cy="162.0" r="2.6" fill="none" stroke="#4040ff" stroke-width="0.9"/>
<circle cx="377.0" cy="157.4" r="2.6" fill="none" stroke="#4040ff" stroke-width="0.9"/>
<circle cx="379.5" cy="162.3" r="2.6" fill="none" stroke="#4040ff" stroke-width="0.9"/>
<circle cx="382.0" cy="161.0" r="2.6" fill="none" stroke="#4040ff" stroke-width="0.9"/>
<circle cx="384.5" cy="151.5" r="2.6" fill="none" stroke="#4040ff" stroke-width="0.9"/>
<circle cx="387.0" cy="151.5" r="2.6" fill="none" stroke="#4040ff" stroke-width="0.9"/>
<circle cx="389.3" cy="156.4" r="2.6" fill="none" stroke="#4040ff" stroke-width="0.9"/>
<circle cx="391.5" cy="155.0" r="2.6" fill="none" stroke="#4040ff" stroke-width="0.9"/>
<circle cx="394.1" cy="156.7" r="2.6" fill="none" stroke="#4040ff" stroke-width="0.9"/>
<circle cx="396.8" cy="152.7" r="2.6" fill="none" stroke="#4040ff" stroke-width="0.9"/>
<circle cx="399.2" cy="118.2" r="2.6" fill="none" stroke="#4040ff" stroke-width="0.9"/>
<circle cx="401.5" cy="136.8" r="2.6" fill="none" stroke="#4040ff" stroke-width="0.9"/>
<circle cx="404.2" cy="111.8" r="2.6" fill="none" stroke="#4040ff" stroke-width="0.9"/>
<circle cx="406.7" cy="103.7" r="2.6" fill="none" stroke="#4040ff" stroke-width="0.9"/>
<circle cx="411.6" cy="142.8" r="2.6" fill="none" stroke="#4040ff" stroke-width="0.9"/>
<circle cx="414.0" cy="143.0" r="2.6" fill="none" stroke="#4040ff" stroke-width="0.9"/>
<circle cx="418.7" cy="146.5" r="2.6" fill="none" stroke="#4040ff" stroke-width="0.9"/>
<circle cx="421.3" cy="144.1" r="2.6" fill="none" stroke="#4040ff" stroke-width="0.9"/>
<circle cx="423.5" cy="132.4" r="2.6" fill="none" stroke="#4040ff" stroke-width="0.9"/>
<circle cx="425.6" cy="127.6" r="2.6" fill="none" stroke="#4040ff" stroke-width="0.9"/>
<circle cx="428.1" cy="128.1" r="2.6" fill="none" stroke="#4040ff" stroke-width="0.9"/>
<circle cx="429.7" cy="128.1" r="2.6" fill="none" stroke="#4040ff" stroke-width="0.9"/>
<circle cx="431.0" cy="139.2" r="2.6" fill="none" stroke="#4040ff" stroke-width="0.9"/>
<circle cx="433.5" cy="132.8" r="2.6" fill="none" stroke="#4040ff" stroke-width="0.9"/>
<circle cx="436.2" cy="136.4" r="2.6" fill="none" stroke="#4040ff" stroke-width="0.9"/>
<circle cx="438.5" cy="147.6" r="2.6" fill="none" stroke="#4040ff" stroke-width="0.9"/>
<circle cx="440.8" cy="141.3" r="2.6" fill="none" stroke="#4040ff" stroke-width="0.9"/>
<circle cx="443.5" cy="146.5" r="2.6" fill="none" stroke="#4040ff" stroke-width="0.9"/>
<circle cx="445.9" cy="153.3" r="2.6" fill="none" stroke="#4040ff" stroke-width="0.9"/>
<circle cx="448.4" cy="142.2" r="2.6" fill="none" stroke="#4040ff" stroke-width="0.9"/>
<circle cx="451.1" cy="147.1" r="2.6" fill="none" stroke="#4040ff" stroke-width="0.9"/>
<circle cx="453.4" cy="149.0" r="2.6" fill="none" stroke="#4040ff" stroke-width="0.9"/>
<circle cx="455.6" cy="153.3" r="2.6" fill="none" stroke="#4040ff" stroke-width="0.9"/>
<circle cx="458.1" cy="116.4" r="2.6" fill="none" stroke="#4040ff" stroke-width="0.9"/>
<circle cx="460.6" cy="144.0" r="2.6" fill="none" stroke="#4040ff" stroke-width="0.9"/>
<circle cx="462.9" cy="123.6" r="2.6" fill="none" stroke="#4040ff" stroke-width="0.9"/>
<circle cx="465.3" cy="107.3" r="2.6" fill="none" stroke="#4040ff" stroke-width="0.9"/>
<circle cx="468.0" cy="104.0" r="2.6" fill="none" stroke="#4040ff" stroke-width="0.9"/>
<circle cx="470.5" cy="113.2" r="2.6" fill="none" stroke="#4040ff" stroke-width="0.9"/>
<circle cx="472.8" cy="106.0" r="2.6" fill="none" stroke="#4040ff" stroke-width="0.9"/>
<circle cx="475.1" cy="106.4" r="2.6" fill="none" stroke="#4040ff" stroke-width="0.9"/>
<circle cx="477.5" cy="109.1" r="2.6" fill="none" stroke="#4040ff" stroke-width="0.9"/>
<circle cx="480.9" cy="110.0" r="2.6" fill="none" stroke="#4040ff" stroke-width="0.9"/>
<circle cx="482.9" cy="127.2" r="2.6" fill="none" stroke="#4040ff" stroke-width="0.9"/>
<circle cx="484.9" cy="139.2" r="2.6" fill="none" stroke="#4040ff" stroke-width="0.9"/>
<circle cx="487.6" cy="164.5" r="2.6" fill="none" stroke="#4040ff" stroke-width="0.9"/>
<circle cx="490.4" cy="166.6" r="2.6" fill="none" stroke="#4040ff" stroke-width="0.9"/>
<circle cx="492.4" cy="186.8" r="2.6" fill="none" stroke="#4040ff" stroke-width="0.9"/>
<circle cx="497.3" cy="185.0" r="2.6" fill="none" stroke="#4040ff" stroke-width="0.9"/>
<circle cx="499.7" cy="188.9" r="2.6" fill="none" stroke="#4040ff" stroke-width="0.9"/>
<circle cx="502.5" cy="188.4" r="2.6" fill="none" stroke="#4040ff" stroke-width="0.9"/>
<circle cx="504.6" cy="182.1" r="2.6" fill="none" stroke="#4040ff" stroke-width="0.9"/>
<circle cx="506.9" cy="156.9" r="2.6" fill="none" stroke="#4040ff" stroke-width="0.9"/>
<circle cx="509.5" cy="164.2" r="2.6" fill="none" stroke="#4040ff" stroke-width="0.9"/>
<circle cx="510.3" cy="160.0" r="2.6" fill="none" stroke="#4040ff" stroke-width="0.9"/>
<circle cx="511.8" cy="155.3" r="2.6" fill="none" stroke="#4040ff" stroke-width="0.9"/>
<circle cx="514.4" cy="163.7" r="2.6" fill="none" stroke="#4040ff" stroke-width="0.9"/>
<circle cx="517.1" cy="169.5" r="2.6" fill="none" stroke="#4040ff" stroke-width="0.9"/>
<circle cx="519.1" cy="165.0" r="2.6" fill="none" stroke="#4040ff" stroke-width="0.9"/>
<circle cx="521.8" cy="166.8" r="2.6" fill="none" stroke="#4040ff" stroke-width="0.9"/>
<circle cx="524.5" cy="163.4" r="2.6" fill="none" stroke="#4040ff" stroke-width="0.9"/>
<circle cx="526.8" cy="166.8" r="2.6" fill="none" stroke="#4040ff" stroke-width="0.9"/>
<circle cx="529.9" cy="167.2" r="2.6" fill="none" stroke="#4040ff" stroke-width="0.9"/>
<circle cx="532.2" cy="168.8" r="2.6" fill="none" stroke="#4040ff" stroke-width="0.9"/>
<circle cx="534.0" cy="162.8" r="2.6" fill="none" stroke="#4040ff" stroke-width="0.9"/>
<circle cx="536.7" cy="163.4" r="2.6" fill="none" stroke="#4040ff" stroke-width="0.9"/>
<circle cx="539.4" cy="163.7" r="2.6" fill="none" stroke="#4040ff" stroke-width="0.9"/>
<polyline points="97.5,255.3 99.3,268.1 100.5,259.0 103.0,263.2 104.8,257.5 106.6,265.7 108.5,262.6 110.0,258.4 112.1,267.5 114.6,262.6 117.6,268.7 119.1,268.7 120.7,267.5 121.6,266.4 123.2,268.2 125.2,267.7 125.7,275.3 127.8,276.3 129.3,277.3 130.8,279.4 131.3,293.1 132.8,295.1 134.4,297.6 135.9,313.9 137.2,307.9 139.0,314.8 141.3,323.8 141.7,315.1 144.0,316.6 145.0,333.1 147.0,344.7 148.6,356.4 150.1,365.6 152.6,367.6 155.2,361.0 157.2,363.5 159.7,361.5 161.8,359.5 164.3,361.5 166.3,355.4 169.4,348.3 170.9,353.4 174.0,355.9 175.5,350.3 178.5,354.4 180.1,347.3 182.1,344.2 183.6,339.7 186.2,342.2 188.2,347.3 190.2,344.2 192.8,340.2 194.2,343.0 195.9,344.3 197.7,340.7 199.5,337.1 200.9,332.6 203.1,332.6 204.0,336.6 205.8,331.7 207.6,323.6 209.5,326.7 211.7,331.2 214.0,333.0 215.3,339.4 217.6,341.2 219.4,331.2 221.2,337.1 223.9,328.1 225.7,332.1 226.6,337.1 228.9,333.5 231.1,330.3 232.9,331.7 233.8,319.0 235.5,318.6 236.8,322.6 238.2,326.7 240.0,329.4 240.9,332.6 241.8,335.7 243.1,337.6 244.5,335.3 245.8,332.6 247.6,329.9 249.5,327.2 251.3,325.4 253.5,319.9 255.8,324.0 257.6,326.7 258.9,331.2 260.3,328.1 262.1,328.5 263.9,333.0 265.7,333.5 267.1,327.2 269.3,326.7 270.7,321.3 272.2,315.2 273.8,327.2 275.8,330.2 278.5,332.2 280.6,335.6 281.9,341.0 284.0,343.7 285.3,346.2 288.0,344.4 290.7,335.6 292.8,335.6 295.5,338.0 297.5,334.9 299.5,330.9 301.6,326.6 303.4,319.8 305.7,319.4 307.5,311.2 309.3,311.2 310.6,318.0 312.9,319.8 314.7,312.6 316.1,312.1 317.4,316.6 318.3,298.1 319.7,299.0 321.5,301.7 323.3,307.2 324.2,309.9 325.6,305.8 327.8,305.4 329.6,303.1 331.9,309.0 333.7,306.7 334.1,298.6 336.8,303.1 338.2,298.6 339.6,299.0 341.0,298.3 342.3,293.6 343.6,295.2 344.6,291.7 346.1,289.7 348.6,286.6 351.2,292.2 352.0,305.9 353.7,313.5 355.2,315.0 357.3,318.1 358.8,320.1 361.8,313.0 364.4,312.0 365.9,305.9 366.9,299.3 369.0,300.3 371.0,302.3 374.0,304.4 375.6,298.3 377.6,296.3 379.6,298.3 381.0,297.9 381.6,293.7 383.0,291.3 384.6,295.3 385.6,283.6 387.6,293.3 389.1,298.4 390.2,289.7 392.2,289.2 392.2,295.3 394.2,290.2 396.3,289.7 397.8,291.3 399.3,296.3 401.8,286.2 402.9,290.2 403.9,293.3 404.4,301.9 406.4,304.0 409.0,298.4 411.5,297.3 414.0,298.4 416.1,304.5 417.6,309.0 419.1,311.1 421.1,312.6 423.2,310.0 424.7,306.5 426.3,303.0 428.2,302.7 428.3,300.6 430.5,299.1 431.0,295.9 432.6,295.1 432.4,292.5 434.3,291.0 434.4,287.8 436.3,287.0 436.4,284.4 438.3,283.6 438.5,281.0 440.4,280.2 440.5,277.6 442.4,276.8 442.5,274.2 444.4,273.8 444.6,271.5 446.5,271.0 446.6,268.8 448.5,268.7 448.6,266.8 450.0,267.4 449.7,266.1 451.6,265.6 451.8,263.4 453.7,262.6 453.8,260.0 455.0,262.6 454.5,263.4 456.0,261.2 455.8,257.3 458.0,257.9 458.5,256.7 460.8,258.6 461.2,258.7 463.1,258.6 463.3,256.7 465.2,256.2 465.3,254.0 466.9,253.5 466.7,251.2 469.4,253.3 471.4,251.9 474.1,250.6 476.8,252.6 478.8,254.0 480.9,254.0 480.9,259.4 483.6,266.1 485.6,272.2 487.4,286.2 488.1,298.6 490.8,301.3 491.3,318.4 492.6,326.2 494.6,337.5 496.3,353.5 498.7,363.1 499.4,360.2 502.3,361.7 505.8,363.1 507.3,355.2 510.2,359.5 513.8,359.5 515.2,355.2 518.1,359.5 519.5,355.2 521.7,346.6 523.8,350.9 525.3,340.1 527.4,343.0 528.8,350.9 531.0,343.7 533.9,345.8 536.8,346.6 537.9,351.6 539.3,343.4" fill="none" stroke="#222" stroke-width="0.8"/>
<circle cx="97.5" cy="255.3" r="2.3" fill="none" stroke="#111" stroke-width="1.05"/>
<circle cx="99.3" cy="268.1" r="2.3" fill="none" stroke="#111" stroke-width="1.05"/>
<circle cx="100.5" cy="259.0" r="2.3" fill="none" stroke="#111" stroke-width="1.05"/>
<circle cx="103.0" cy="263.2" r="2.3" fill="none" stroke="#111" stroke-width="1.05"/>
<circle cx="104.8" cy="257.5" r="2.3" fill="none" stroke="#111" stroke-width="1.05"/>
<circle cx="106.6" cy="265.7" r="2.3" fill="none" stroke="#111" stroke-width="1.05"/>
<circle cx="108.5" cy="262.6" r="2.3" fill="none" stroke="#111" stroke-width="1.05"/>
<circle cx="110.0" cy="258.4" r="2.3" fill="none" stroke="#111" stroke-width="1.05"/>
<circle cx="112.1" cy="267.5" r="2.3" fill="none" stroke="#111" stroke-width="1.05"/>
<circle cx="114.6" cy="262.6" r="2.3" fill="none" stroke="#111" stroke-width="1.05"/>
<circle cx="117.6" cy="268.7" r="2.3" fill="none" stroke="#111" stroke-width="1.05"/>
<circle cx="119.1" cy="268.7" r="2.3" fill="none" stroke="#111" stroke-width="1.05"/>
<circle cx="120.7" cy="267.5" r="2.3" fill="none" stroke="#111" stroke-width="1.05"/>
<circle cx="121.6" cy="266.4" r="2.3" fill="none" stroke="#111" stroke-width="1.05"/>
<circle cx="123.2" cy="268.2" r="2.3" fill="none" stroke="#111" stroke-width="1.05"/>
<circle cx="125.2" cy="267.7" r="2.3" fill="none" stroke="#111" stroke-width="1.05"/>
<circle cx="125.7" cy="275.3" r="2.3" fill="none" stroke="#111" stroke-width="1.05"/>
<circle cx="127.8" cy="276.3" r="2.3" fill="none" stroke="#111" stroke-width="1.05"/>
<circle cx="129.3" cy="277.3" r="2.3" fill="none" stroke="#111" stroke-width="1.05"/>
<circle cx="130.8" cy="279.4" r="2.3" fill="none" stroke="#111" stroke-width="1.05"/>
<circle cx="131.3" cy="293.1" r="2.3" fill="none" stroke="#111" stroke-width="1.05"/>
<circle cx="132.8" cy="295.1" r="2.3" fill="none" stroke="#111" stroke-width="1.05"/>
<circle cx="134.4" cy="297.6" r="2.3" fill="none" stroke="#111" stroke-width="1.05"/>
<circle cx="135.9" cy="313.9" r="2.3" fill="none" stroke="#111" stroke-width="1.05"/>
<circle cx="137.2" cy="307.9" r="2.3" fill="none" stroke="#111" stroke-width="1.05"/>
<circle cx="139.0" cy="314.8" r="2.3" fill="none" stroke="#111" stroke-width="1.05"/>
<circle cx="141.3" cy="323.8" r="2.3" fill="none" stroke="#111" stroke-width="1.05"/>
<circle cx="141.7" cy="315.1" r="2.3" fill="none" stroke="#111" stroke-width="1.05"/>
<circle cx="144.0" cy="316.6" r="2.3" fill="none" stroke="#111" stroke-width="1.05"/>
<circle cx="145.0" cy="333.1" r="2.3" fill="none" stroke="#111" stroke-width="1.05"/>
<circle cx="147.0" cy="344.7" r="2.3" fill="none" stroke="#111" stroke-width="1.05"/>
<circle cx="148.6" cy="356.4" r="2.3" fill="none" stroke="#111" stroke-width="1.05"/>
<circle cx="150.1" cy="365.6" r="2.3" fill="none" stroke="#111" stroke-width="1.05"/>
<circle cx="152.6" cy="367.6" r="2.3" fill="none" stroke="#111" stroke-width="1.05"/>
<circle cx="155.2" cy="361.0" r="2.3" fill="none" stroke="#111" stroke-width="1.05"/>
<circle cx="157.2" cy="363.5" r="2.3" fill="none" stroke="#111" stroke-width="1.05"/>
<circle cx="159.7" cy="361.5" r="2.3" fill="none" stroke="#111" stroke-width="1.05"/>
<circle cx="161.8" cy="359.5" r="2.3" fill="none" stroke="#111" stroke-width="1.05"/>
<circle cx="164.3" cy="361.5" r="2.3" fill="none" stroke="#111" stroke-width="1.05"/>
<circle cx="166.3" cy="355.4" r="2.3" fill="none" stroke="#111" stroke-width="1.05"/>
<circle cx="169.4" cy="348.3" r="2.3" fill="none" stroke="#111" stroke-width="1.05"/>
<circle cx="170.9" cy="353.4" r="2.3" fill="none" stroke="#111" stroke-width="1.05"/>
<circle cx="174.0" cy="355.9" r="2.3" fill="none" stroke="#111" stroke-width="1.05"/>
<circle cx="175.5" cy="350.3" r="2.3" fill="none" stroke="#111" stroke-width="1.05"/>
<circle cx="178.5" cy="354.4" r="2.3" fill="none" stroke="#111" stroke-width="1.05"/>
<circle cx="180.1" cy="347.3" r="2.3" fill="none" stroke="#111" stroke-width="1.05"/>
<circle cx="182.1" cy="344.2" r="2.3" fill="none" stroke="#111" stroke-width="1.05"/>
<circle cx="183.6" cy="339.7" r="2.3" fill="none" stroke="#111" stroke-width="1.05"/>
<circle cx="186.2" cy="342.2" r="2.3" fill="none" stroke="#111" stroke-width="1.05"/>
<circle cx="188.2" cy="347.3" r="2.3" fill="none" stroke="#111" stroke-width="1.05"/>
<circle cx="190.2" cy="344.2" r="2.3" fill="none" stroke="#111" stroke-width="1.05"/>
<circle cx="192.8" cy="340.2" r="2.3" fill="none" stroke="#111" stroke-width="1.05"/>
<circle cx="194.2" cy="343.0" r="2.3" fill="none" stroke="#111" stroke-width="1.05"/>
<circle cx="195.9" cy="344.3" r="2.3" fill="none" stroke="#111" stroke-width="1.05"/>
<circle cx="197.7" cy="340.7" r="2.3" fill="none" stroke="#111" stroke-width="1.05"/>
<circle cx="199.5" cy="337.1" r="2.3" fill="none" stroke="#111" stroke-width="1.05"/>
<circle cx="200.9" cy="332.6" r="2.3" fill="none" stroke="#111" stroke-width="1.05"/>
<circle cx="203.1" cy="332.6" r="2.3" fill="none" stroke="#111" stroke-width="1.05"/>
<circle cx="204.0" cy="336.6" r="2.3" fill="none" stroke="#111" stroke-width="1.05"/>
<circle cx="205.8" cy="331.7" r="2.3" fill="none" stroke="#111" stroke-width="1.05"/>
<circle cx="207.6" cy="323.6" r="2.3" fill="none" stroke="#111" stroke-width="1.05"/>
<circle cx="209.5" cy="326.7" r="2.3" fill="none" stroke="#111" stroke-width="1.05"/>
<circle cx="211.7" cy="331.2" r="2.3" fill="none" stroke="#111" stroke-width="1.05"/>
<circle cx="214.0" cy="333.0" r="2.3" fill="none" stroke="#111" stroke-width="1.05"/>
<circle cx="215.3" cy="339.4" r="2.3" fill="none" stroke="#111" stroke-width="1.05"/>
<circle cx="217.6" cy="341.2" r="2.3" fill="none" stroke="#111" stroke-width="1.05"/>
<circle cx="219.4" cy="331.2" r="2.3" fill="none" stroke="#111" stroke-width="1.05"/>
<circle cx="221.2" cy="337.1" r="2.3" fill="none" stroke="#111" stroke-width="1.05"/>
<circle cx="223.9" cy="328.1" r="2.3" fill="none" stroke="#111" stroke-width="1.05"/>
<circle cx="225.7" cy="332.1" r="2.3" fill="none" stroke="#111" stroke-width="1.05"/>
<circle cx="226.6" cy="337.1" r="2.3" fill="none" stroke="#111" stroke-width="1.05"/>
<circle cx="228.9" cy="333.5" r="2.3" fill="none" stroke="#111" stroke-width="1.05"/>
<circle cx="231.1" cy="330.3" r="2.3" fill="none" stroke="#111" stroke-width="1.05"/>
<circle cx="232.9" cy="331.7" r="2.3" fill="none" stroke="#111" stroke-width="1.05"/>
<circle cx="233.8" cy="319.0" r="2.3" fill="none" stroke="#111" stroke-width="1.05"/>
<circle cx="235.5" cy="318.6" r="2.3" fill="none" stroke="#111" stroke-width="1.05"/>
<circle cx="236.8" cy="322.6" r="2.3" fill="none" stroke="#111" stroke-width="1.05"/>
<circle cx="238.2" cy="326.7" r="2.3" fill="none" stroke="#111" stroke-width="1.05"/>
<circle cx="240.0" cy="329.4" r="2.3" fill="none" stroke="#111" stroke-width="1.05"/>
<circle cx="240.9" cy="332.6" r="2.3" fill="none" stroke="#111" stroke-width="1.05"/>
<circle cx="241.8" cy="335.7" r="2.3" fill="none" stroke="#111" stroke-width="1.05"/>
<circle cx="243.1" cy="337.6" r="2.3" fill="none" stroke="#111" stroke-width="1.05"/>
<circle cx="244.5" cy="335.3" r="2.3" fill="none" stroke="#111" stroke-width="1.05"/>
<circle cx="245.8" cy="332.6" r="2.3" fill="none" stroke="#111" stroke-width="1.05"/>
<circle cx="247.6" cy="329.9" r="2.3" fill="none" stroke="#111" stroke-width="1.05"/>
<circle cx="249.5" cy="327.2" r="2.3" fill="none" stroke="#111" stroke-width="1.05"/>
<circle cx="251.3" cy="325.4" r="2.3" fill="none" stroke="#111" stroke-width="1.05"/>
<circle cx="253.5" cy="319.9" r="2.3" fill="none" stroke="#111" stroke-width="1.05"/>
<circle cx="255.8" cy="324.0" r="2.3" fill="none" stroke="#111" stroke-width="1.05"/>
<circle cx="257.6" cy="326.7" r="2.3" fill="none" stroke="#111" stroke-width="1.05"/>
<circle cx="258.9" cy="331.2" r="2.3" fill="none" stroke="#111" stroke-width="1.05"/>
<circle cx="260.3" cy="328.1" r="2.3" fill="none" stroke="#111" stroke-width="1.05"/>
<circle cx="262.1" cy="328.5" r="2.3" fill="none" stroke="#111" stroke-width="1.05"/>
<circle cx="263.9" cy="333.0" r="2.3" fill="none" stroke="#111" stroke-width="1.05"/>
<circle cx="265.7" cy="333.5" r="2.3" fill="none" stroke="#111" stroke-width="1.05"/>
<circle cx="267.1" cy="327.2" r="2.3" fill="none" stroke="#111" stroke-width="1.05"/>
<circle cx="269.3" cy="326.7" r="2.3" fill="none" stroke="#111" stroke-width="1.05"/>
<circle cx="270.7" cy="321.3" r="2.3" fill="none" stroke="#111" stroke-width="1.05"/>
<circle cx="272.2" cy="315.2" r="2.3" fill="none" stroke="#111" stroke-width="1.05"/>
<circle cx="273.8" cy="327.2" r="2.3" fill="none" stroke="#111" stroke-width="1.05"/>
<circle cx="275.8" cy="330.2" r="2.3" fill="none" stroke="#111" stroke-width="1.05"/>
<circle cx="278.5" cy="332.2" r="2.3" fill="none" stroke="#111" stroke-width="1.05"/>
<circle cx="280.6" cy="335.6" r="2.3" fill="none" stroke="#111" stroke-width="1.05"/>
<circle cx="281.9" cy="341.0" r="2.3" fill="none" stroke="#111" stroke-width="1.05"/>
<circle cx="284.0" cy="343.7" r="2.3" fill="none" stroke="#111" stroke-width="1.05"/>
<circle cx="285.3" cy="346.2" r="2.3" fill="none" stroke="#111" stroke-width="1.05"/>
<circle cx="288.0" cy="344.4" r="2.3" fill="none" stroke="#111" stroke-width="1.05"/>
<circle cx="290.7" cy="335.6" r="2.3" fill="none" stroke="#111" stroke-width="1.05"/>
<circle cx="292.8" cy="335.6" r="2.3" fill="none" stroke="#111" stroke-width="1.05"/>
<circle cx="295.5" cy="338.0" r="2.3" fill="none" stroke="#111" stroke-width="1.05"/>
<circle cx="297.5" cy="334.9" r="2.3" fill="none" stroke="#111" stroke-width="1.05"/>
<circle cx="299.5" cy="330.9" r="2.3" fill="none" stroke="#111" stroke-width="1.05"/>
<circle cx="301.6" cy="326.6" r="2.3" fill="none" stroke="#111" stroke-width="1.05"/>
<circle cx="303.4" cy="319.8" r="2.3" fill="none" stroke="#111" stroke-width="1.05"/>
<circle cx="305.7" cy="319.4" r="2.3" fill="none" stroke="#111" stroke-width="1.05"/>
<circle cx="307.5" cy="311.2" r="2.3" fill="none" stroke="#111" stroke-width="1.05"/>
<circle cx="309.3" cy="311.2" r="2.3" fill="none" stroke="#111" stroke-width="1.05"/>
<circle cx="310.6" cy="318.0" r="2.3" fill="none" stroke="#111" stroke-width="1.05"/>
<circle cx="312.9" cy="319.8" r="2.3" fill="none" stroke="#111" stroke-width="1.05"/>
<circle cx="314.7" cy="312.6" r="2.3" fill="none" stroke="#111" stroke-width="1.05"/>
<circle cx="316.1" cy="312.1" r="2.3" fill="none" stroke="#111" stroke-width="1.05"/>
<circle cx="317.4" cy="316.6" r="2.3" fill="none" stroke="#111" stroke-width="1.05"/>
<circle cx="318.3" cy="298.1" r="2.3" fill="none" stroke="#111" stroke-width="1.05"/>
<circle cx="319.7" cy="299.0" r="2.3" fill="none" stroke="#111" stroke-width="1.05"/>
<circle cx="321.5" cy="301.7" r="2.3" fill="none" stroke="#111" stroke-width="1.05"/>
<circle cx="323.3" cy="307.2" r="2.3" fill="none" stroke="#111" stroke-width="1.05"/>
<circle cx="324.2" cy="309.9" r="2.3" fill="none" stroke="#111" stroke-width="1.05"/>
<circle cx="325.6" cy="305.8" r="2.3" fill="none" stroke="#111" stroke-width="1.05"/>
<circle cx="327.8" cy="305.4" r="2.3" fill="none" stroke="#111" stroke-width="1.05"/>
<circle cx="329.6" cy="303.1" r="2.3" fill="none" stroke="#111" stroke-width="1.05"/>
<circle cx="331.9" cy="309.0" r="2.3" fill="none" stroke="#111" stroke-width="1.05"/>
<circle cx="333.7" cy="306.7" r="2.3" fill="none" stroke="#111" stroke-width="1.05"/>
<circle cx="334.1" cy="298.6" r="2.3" fill="none" stroke="#111" stroke-width="1.05"/>
<circle cx="336.8" cy="303.1" r="2.3" fill="none" stroke="#111" stroke-width="1.05"/>
<circle cx="338.2" cy="298.6" r="2.3" fill="none" stroke="#111" stroke-width="1.05"/>
<circle cx="339.6" cy="299.0" r="2.3" fill="none" stroke="#111" stroke-width="1.05"/>
<circle cx="341.0" cy="298.3" r="2.3" fill="none" stroke="#111" stroke-width="1.05"/>
<circle cx="342.3" cy="293.6" r="2.3" fill="none" stroke="#111" stroke-width="1.05"/>
<circle cx="343.6" cy="295.2" r="2.3" fill="none" stroke="#111" stroke-width="1.05"/>
<circle cx="344.6" cy="291.7" r="2.3" fill="none" stroke="#111" stroke-width="1.05"/>
<circle cx="346.1" cy="289.7" r="2.3" fill="none" stroke="#111" stroke-width="1.05"/>
<circle cx="348.6" cy="286.6" r="2.3" fill="none" stroke="#111" stroke-width="1.05"/>
<circle cx="351.2" cy="292.2" r="2.3" fill="none" stroke="#111" stroke-width="1.05"/>
<circle cx="352.0" cy="305.9" r="2.3" fill="none" stroke="#111" stroke-width="1.05"/>
<circle cx="353.7" cy="313.5" r="2.3" fill="none" stroke="#111" stroke-width="1.05"/>
<circle cx="355.2" cy="315.0" r="2.3" fill="none" stroke="#111" stroke-width="1.05"/>
<circle cx="357.3" cy="318.1" r="2.3" fill="none" stroke="#111" stroke-width="1.05"/>
<circle cx="358.8" cy="320.1" r="2.3" fill="none" stroke="#111" stroke-width="1.05"/>
<circle cx="361.8" cy="313.0" r="2.3" fill="none" stroke="#111" stroke-width="1.05"/>
<circle cx="364.4" cy="312.0" r="2.3" fill="none" stroke="#111" stroke-width="1.05"/>
<circle cx="365.9" cy="305.9" r="2.3" fill="none" stroke="#111" stroke-width="1.05"/>
<circle cx="366.9" cy="299.3" r="2.3" fill="none" stroke="#111" stroke-width="1.05"/>
<circle cx="369.0" cy="300.3" r="2.3" fill="none" stroke="#111" stroke-width="1.05"/>
<circle cx="371.0" cy="302.3" r="2.3" fill="none" stroke="#111" stroke-width="1.05"/>
<circle cx="374.0" cy="304.4" r="2.3" fill="none" stroke="#111" stroke-width="1.05"/>
<circle cx="375.6" cy="298.3" r="2.3" fill="none" stroke="#111" stroke-width="1.05"/>
<circle cx="377.6" cy="296.3" r="2.3" fill="none" stroke="#111" stroke-width="1.05"/>
<circle cx="379.6" cy="298.3" r="2.3" fill="none" stroke="#111" stroke-width="1.05"/>
<circle cx="381.0" cy="297.9" r="2.3" fill="none" stroke="#111" stroke-width="1.05"/>
<circle cx="381.6" cy="293.7" r="2.3" fill="none" stroke="#111" stroke-width="1.05"/>
<circle cx="383.0" cy="291.3" r="2.3" fill="none" stroke="#111" stroke-width="1.05"/>
<circle cx="384.6" cy="295.3" r="2.3" fill="none" stroke="#111" stroke-width="1.05"/>
<circle cx="385.6" cy="283.6" r="2.3" fill="none" stroke="#111" stroke-width="1.05"/>
<circle cx="387.6" cy="293.3" r="2.3" fill="none" stroke="#111" stroke-width="1.05"/>
<circle cx="389.1" cy="298.4" r="2.3" fill="none" stroke="#111" stroke-width="1.05"/>
<circle cx="390.2" cy="289.7" r="2.3" fill="none" stroke="#111" stroke-width="1.05"/>
<circle cx="392.2" cy="289.2" r="2.3" fill="none" stroke="#111" stroke-width="1.05"/>
<circle cx="392.2" cy="295.3" r="2.3" fill="none" stroke="#111" stroke-width="1.05"/>
<circle cx="394.2" cy="290.2" r="2.3" fill="none" stroke="#111" stroke-width="1.05"/>
<circle cx="396.3" cy="289.7" r="2.3" fill="none" stroke="#111" stroke-width="1.05"/>
<circle cx="397.8" cy="291.3" r="2.3" fill="none" stroke="#111" stroke-width="1.05"/>
<circle cx="399.3" cy="296.3" r="2.3" fill="none" stroke="#111" stroke-width="1.05"/>
<circle cx="401.8" cy="286.2" r="2.3" fill="none" stroke="#111" stroke-width="1.05"/>
<circle cx="402.9" cy="290.2" r="2.3" fill="none" stroke="#111" stroke-width="1.05"/>
<circle cx="403.9" cy="293.3" r="2.3" fill="none" stroke="#111" stroke-width="1.05"/>
<circle cx="404.4" cy="301.9" r="2.3" fill="none" stroke="#111" stroke-width="1.05"/>
<circle cx="406.4" cy="304.0" r="2.3" fill="none" stroke="#111" stroke-width="1.05"/>
<circle cx="409.0" cy="298.4" r="2.3" fill="none" stroke="#111" stroke-width="1.05"/>
<circle cx="411.5" cy="297.3" r="2.3" fill="none" stroke="#111" stroke-width="1.05"/>
<circle cx="414.0" cy="298.4" r="2.3" fill="none" stroke="#111" stroke-width="1.05"/>
<circle cx="416.1" cy="304.5" r="2.3" fill="none" stroke="#111" stroke-width="1.05"/>
<circle cx="417.6" cy="309.0" r="2.3" fill="none" stroke="#111" stroke-width="1.05"/>
<circle cx="419.1" cy="311.1" r="2.3" fill="none" stroke="#111" stroke-width="1.05"/>
<circle cx="421.1" cy="312.6" r="2.3" fill="none" stroke="#111" stroke-width="1.05"/>
<circle cx="423.2" cy="310.0" r="2.3" fill="none" stroke="#111" stroke-width="1.05"/>
<circle cx="424.7" cy="306.5" r="2.3" fill="none" stroke="#111" stroke-width="1.05"/>
<circle cx="426.3" cy="303.0" r="2.3" fill="none" stroke="#111" stroke-width="1.05"/>
<circle cx="428.2" cy="302.7" r="2.3" fill="none" stroke="#111" stroke-width="1.05"/>
<circle cx="428.3" cy="300.6" r="2.3" fill="none" stroke="#111" stroke-width="1.05"/>
<circle cx="430.5" cy="299.1" r="2.3" fill="none" stroke="#111" stroke-width="1.05"/>
<circle cx="431.0" cy="295.9" r="2.3" fill="none" stroke="#111" stroke-width="1.05"/>
<circle cx="432.6" cy="295.1" r="2.3" fill="none" stroke="#111" stroke-width="1.05"/>
<circle cx="432.4" cy="292.5" r="2.3" fill="none" stroke="#111" stroke-width="1.05"/>
<circle cx="434.3" cy="291.0" r="2.3" fill="none" stroke="#111" stroke-width="1.05"/>
<circle cx="434.4" cy="287.8" r="2.3" fill="none" stroke="#111" stroke-width="1.05"/>
<circle cx="436.3" cy="287.0" r="2.3" fill="none" stroke="#111" stroke-width="1.05"/>
<circle cx="436.4" cy="284.4" r="2.3" fill="none" stroke="#111" stroke-width="1.05"/>
<circle cx="438.3" cy="283.6" r="2.3" fill="none" stroke="#111" stroke-width="1.05"/>
<circle cx="438.5" cy="281.0" r="2.3" fill="none" stroke="#111" stroke-width="1.05"/>
<circle cx="440.4" cy="280.2" r="2.3" fill="none" stroke="#111" stroke-width="1.05"/>
<circle cx="440.5" cy="277.6" r="2.3" fill="none" stroke="#111" stroke-width="1.05"/>
<circle cx="442.4" cy="276.8" r="2.3" fill="none" stroke="#111" stroke-width="1.05"/>
<circle cx="442.5" cy="274.2" r="2.3" fill="none" stroke="#111" stroke-width="1.05"/>
<circle cx="444.4" cy="273.8" r="2.3" fill="none" stroke="#111" stroke-width="1.05"/>
<circle cx="444.6" cy="271.5" r="2.3" fill="none" stroke="#111" stroke-width="1.05"/>
<circle cx="446.5" cy="271.0" r="2.3" fill="none" stroke="#111" stroke-width="1.05"/>
<circle cx="446.6" cy="268.8" r="2.3" fill="none" stroke="#111" stroke-width="1.05"/>
<circle cx="448.5" cy="268.7" r="2.3" fill="none" stroke="#111" stroke-width="1.05"/>
<circle cx="448.6" cy="266.8" r="2.3" fill="none" stroke="#111" stroke-width="1.05"/>
<circle cx="450.0" cy="267.4" r="2.3" fill="none" stroke="#111" stroke-width="1.05"/>
<circle cx="449.7" cy="266.1" r="2.3" fill="none" stroke="#111" stroke-width="1.05"/>
<circle cx="451.6" cy="265.6" r="2.3" fill="none" stroke="#111" stroke-width="1.05"/>
<circle cx="451.8" cy="263.4" r="2.3" fill="none" stroke="#111" stroke-width="1.05"/>
<circle cx="453.7" cy="262.6" r="2.3" fill="none" stroke="#111" stroke-width="1.05"/>
<circle cx="453.8" cy="260.0" r="2.3" fill="none" stroke="#111" stroke-width="1.05"/>
<circle cx="455.0" cy="262.6" r="2.3" fill="none" stroke="#111" stroke-width="1.05"/>
<circle cx="454.5" cy="263.4" r="2.3" fill="none" stroke="#111" stroke-width="1.05"/>
<circle cx="456.0" cy="261.2" r="2.3" fill="none" stroke="#111" stroke-width="1.05"/>
<circle cx="455.8" cy="257.3" r="2.3" fill="none" stroke="#111" stroke-width="1.05"/>
<circle cx="458.0" cy="257.9" r="2.3" fill="none" stroke="#111" stroke-width="1.05"/>
<circle cx="458.5" cy="256.7" r="2.3" fill="none" stroke="#111" stroke-width="1.05"/>
<circle cx="460.8" cy="258.6" r="2.3" fill="none" stroke="#111" stroke-width="1.05"/>
<circle cx="461.2" cy="258.7" r="2.3" fill="none" stroke="#111" stroke-width="1.05"/>
<circle cx="463.1" cy="258.6" r="2.3" fill="none" stroke="#111" stroke-width="1.05"/>
<circle cx="463.3" cy="256.7" r="2.3" fill="none" stroke="#111" stroke-width="1.05"/>
<circle cx="465.2" cy="256.2" r="2.3" fill="none" stroke="#111" stroke-width="1.05"/>
<circle cx="465.3" cy="254.0" r="2.3" fill="none" stroke="#111" stroke-width="1.05"/>
<circle cx="466.9" cy="253.5" r="2.3" fill="none" stroke="#111" stroke-width="1.05"/>
<circle cx="466.7" cy="251.2" r="2.3" fill="none" stroke="#111" stroke-width="1.05"/>
<circle cx="469.4" cy="253.3" r="2.3" fill="none" stroke="#111" stroke-width="1.05"/>
<circle cx="471.4" cy="251.9" r="2.3" fill="none" stroke="#111" stroke-width="1.05"/>
<circle cx="474.1" cy="250.6" r="2.3" fill="none" stroke="#111" stroke-width="1.05"/>
<circle cx="476.8" cy="252.6" r="2.3" fill="none" stroke="#111" stroke-width="1.05"/>
<circle cx="478.8" cy="254.0" r="2.3" fill="none" stroke="#111" stroke-width="1.05"/>
<circle cx="480.9" cy="254.0" r="2.3" fill="none" stroke="#111" stroke-width="1.05"/>
<circle cx="480.9" cy="259.4" r="2.3" fill="none" stroke="#111" stroke-width="1.05"/>
<circle cx="483.6" cy="266.1" r="2.3" fill="none" stroke="#111" stroke-width="1.05"/>
<circle cx="485.6" cy="272.2" r="2.3" fill="none" stroke="#111" stroke-width="1.05"/>
<circle cx="487.4" cy="286.2" r="2.3" fill="none" stroke="#111" stroke-width="1.05"/>
<circle cx="488.1" cy="298.6" r="2.3" fill="none" stroke="#111" stroke-width="1.05"/>
<circle cx="490.8" cy="301.3" r="2.3" fill="none" stroke="#111" stroke-width="1.05"/>
<circle cx="491.3" cy="318.4" r="2.3" fill="none" stroke="#111" stroke-width="1.05"/>
<circle cx="492.6" cy="326.2" r="2.3" fill="none" stroke="#111" stroke-width="1.05"/>
<circle cx="494.6" cy="337.5" r="2.3" fill="none" stroke="#111" stroke-width="1.05"/>
<circle cx="496.3" cy="353.5" r="2.3" fill="none" stroke="#111" stroke-width="1.05"/>
<circle cx="498.7" cy="363.1" r="2.3" fill="none" stroke="#111" stroke-width="1.05"/>
<circle cx="499.4" cy="360.2" r="2.3" fill="none" stroke="#111" stroke-width="1.05"/>
<circle cx="502.3" cy="361.7" r="2.3" fill="none" stroke="#111" stroke-width="1.05"/>
<circle cx="505.8" cy="363.1" r="2.3" fill="none" stroke="#111" stroke-width="1.05"/>
<circle cx="507.3" cy="355.2" r="2.3" fill="none" stroke="#111" stroke-width="1.05"/>
<circle cx="510.2" cy="359.5" r="2.3" fill="none" stroke="#111" stroke-width="1.05"/>
<circle cx="513.8" cy="359.5" r="2.3" fill="none" stroke="#111" stroke-width="1.05"/>
<circle cx="515.2" cy="355.2" r="2.3" fill="none" stroke="#111" stroke-width="1.05"/>
<circle cx="518.1" cy="359.5" r="2.3" fill="none" stroke="#111" stroke-width="1.05"/>
<circle cx="519.5" cy="355.2" r="2.3" fill="none" stroke="#111" stroke-width="1.05"/>
<circle cx="521.7" cy="346.6" r="2.3" fill="none" stroke="#111" stroke-width="1.05"/>
<circle cx="523.8" cy="350.9" r="2.3" fill="none" stroke="#111" stroke-width="1.05"/>
<circle cx="525.3" cy="340.1" r="2.3" fill="none" stroke="#111" stroke-width="1.05"/>
<circle cx="527.4" cy="343.0" r="2.3" fill="none" stroke="#111" stroke-width="1.05"/>
<circle cx="528.8" cy="350.9" r="2.3" fill="none" stroke="#111" stroke-width="1.05"/>
<circle cx="531.0" cy="343.7" r="2.3" fill="none" stroke="#111" stroke-width="1.05"/>
<circle cx="533.9" cy="345.8" r="2.3" fill="none" stroke="#111" stroke-width="1.05"/>
<circle cx="536.8" cy="346.6" r="2.3" fill="none" stroke="#111" stroke-width="1.05"/>
<circle cx="537.9" cy="351.6" r="2.3" fill="none" stroke="#111" stroke-width="1.05"/>
<circle cx="539.3" cy="343.4" r="2.3" fill="none" stroke="#111" stroke-width="1.05"/>
<text x="186.2" y="157.5" style="font-family:'Liberation Serif',serif" font-size="10.4" fill="#3a3a3a">213</text>
<text x="308.5" y="142.5" style="font-family:'Liberation Serif',serif" font-size="10.4" fill="#3a3a3a">440</text>
<text x="399.20000000000005" y="98.2" style="font-family:'Liberation Serif',serif" font-size="10.4" fill="#3a3a3a">630</text>
<text x="420.90000000000003" y="119.6" style="font-family:'Liberation Serif',serif" font-size="10.4" fill="#3a3a3a">670</text>
<text x="455.70000000000005" y="166.7" style="font-family:'Liberation Serif',serif" font-size="10.4" fill="#3a3a3a">730</text>
<text x="461.1" y="99.3" style="font-family:'Liberation Serif',serif" font-size="10.4" fill="#3a3a3a">770</text>
<text x="479.1" y="101.6" style="font-family:'Liberation Serif',serif" font-size="10.4" fill="#3a3a3a">780</text>
<text x="490.0" y="164.4" style="font-family:'Liberation Serif',serif" font-size="10.4" fill="#3a3a3a">800</text>
<text x="498.8" y="200.9" style="font-family:'Liberation Serif',serif" font-size="10.4" fill="#3a3a3a">815</text>
<text x="501.5" y="149.1" style="font-family:'Liberation Serif',serif" font-size="10.4" fill="#3a3a3a">845</text>
<text x="536.3000000000001" y="177.8" style="font-family:'Liberation Serif',serif" font-size="10.4" fill="#3a3a3a">855</text>
<text x="346.70000000000005" y="191.8" style="font-family:'Liberation Sans',sans-serif" font-style="italic" font-size="9.6" fill="#444">505</text>
<text x="373.1" y="144.1" style="font-family:'Liberation Sans',sans-serif" font-style="italic" font-size="9.6" fill="#444">595</text>
<text x="398.6" y="154.5" style="font-family:'Liberation Sans',sans-serif" font-style="italic" font-size="9.6" fill="#444">655</text>
<text x="183.6" y="362.1" style="font-family:'Liberation Serif',serif" font-size="10.4" fill="#3a3a3a">29.5</text>
<text x="273.8" y="315.8" style="font-family:'Liberation Serif',serif" font-size="10.4" fill="#3a3a3a">59.5</text>
<text x="280.6" y="358.7" style="font-family:'Liberation Serif',serif" font-size="10.4" fill="#3a3a3a">64</text>
<text x="308.6" y="336.8" style="font-family:'Liberation Serif',serif" font-size="10.4" fill="#3a3a3a">70</text>
<text x="327.90000000000003" y="320.8" style="font-family:'Liberation Serif',serif" font-size="10.4" fill="#3a3a3a">85.5</text>
<text x="345.1" y="334.5" style="font-family:'Liberation Serif',serif" font-size="10.4" fill="#3a3a3a">88.5</text>
<text x="391.3" y="279.0" style="font-family:'Liberation Serif',serif" font-size="10.4" fill="#3a3a3a">98</text>
<text x="407.8" y="328.9" style="font-family:'Liberation Serif',serif" font-size="10.4" fill="#3a3a3a">110.5</text>
<text x="452.0" y="245.3" style="font-family:'Liberation Serif',serif" font-size="10.4" fill="#3a3a3a">128</text>
<text x="461.5" y="269.4" style="font-family:'Liberation Serif',serif" font-size="10.4" fill="#3a3a3a">130</text>
<text x="467.8" y="340.9" style="font-family:'Liberation Serif',serif" font-size="10.4" fill="#3a3a3a">135</text>
<text x="494.70000000000005" y="377.1" style="font-family:'Liberation Serif',serif" font-size="10.4" fill="#3a3a3a">139.5</text>
<text x="522.3000000000001" y="364.7" style="font-family:'Liberation Serif',serif" font-size="10.4" fill="#3a3a3a">145.5</text>
<text x="542.8000000000001" y="347.9" style="font-family:'Liberation Serif',serif" font-size="10.4" fill="#3a3a3a">149.5</text>
<text x="95.3" y="179.5" style="font-family:'Liberation Serif',serif" font-size="18" fill="#262626">b</text>
<text x="95.7" y="301.2" style="font-family:'Liberation Serif',serif" font-size="18" fill="#262626">a</text>
<text x="312.4" y="117.3" style="font-family:'Liberation Serif',serif" font-size="18.4" fill="#262626">Hu90-08</text>
<text x="212.6" y="294.9" style="font-family:'Liberation Serif',serif" font-size="18.5" fill="#262626">LS16</text>
</svg>
</body></html>
